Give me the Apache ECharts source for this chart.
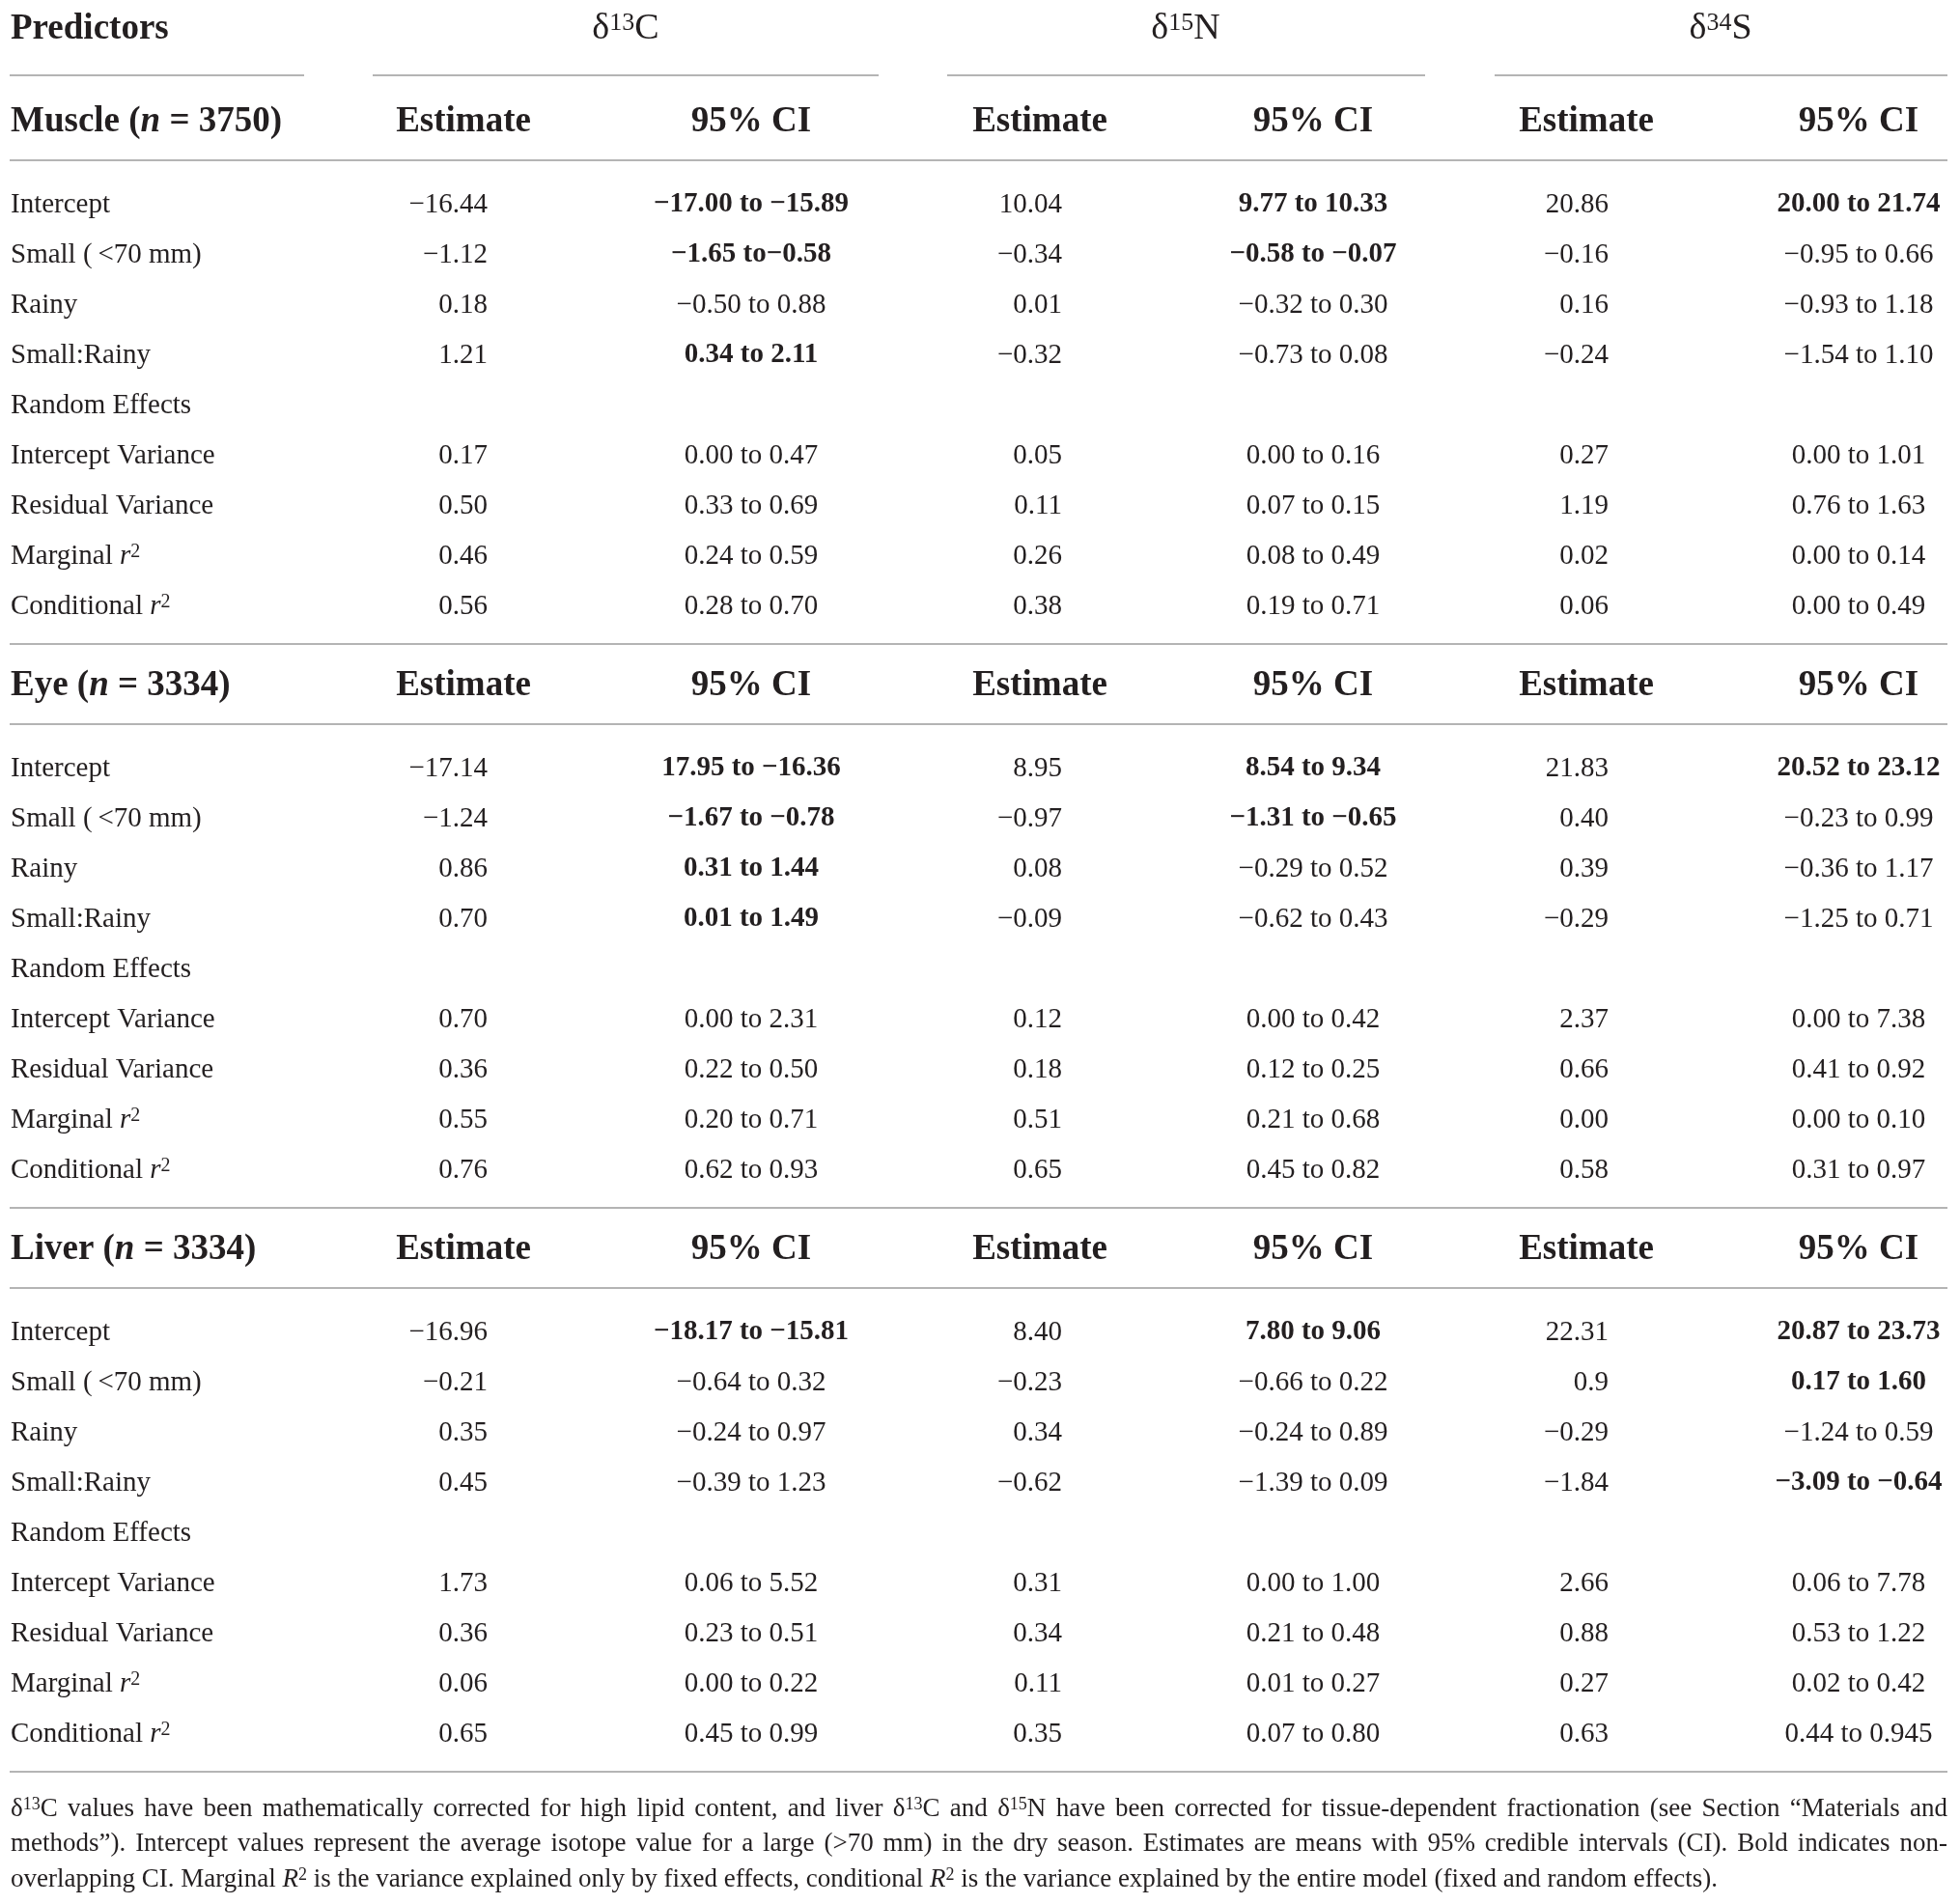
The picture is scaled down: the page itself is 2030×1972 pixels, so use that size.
<!DOCTYPE html>
<html>
<head>
<meta charset="utf-8">
<script src="https://cdn.jsdelivr.net/npm/echarts@6.0.0/dist/echarts.min.js"></script>
<style>
  html, body { margin: 0; padding: 0; background: #fff; }
  #chart-container { width: 2030px; height: 1972px; }
</style>
</head>
<body>
<div id="chart-container"></div>
<script>
var tissues = ['Muscle', 'Eye', 'Liver'];
var sampleSizes = [3750, 3334, 3334];
var isotopeMass = ['13', '15', '34'];
var isotopeElem = ['C', 'N', 'S'];
var predictors = ['Intercept', 'Small (\u2009<70 mm)', 'Rainy', 'Small:Rainy', 'Random Effects',
  'Intercept Variance', 'Residual Variance', 'Marginal {it|r}{sup|2}', 'Conditional {it|r}{sup|2}'];

// estimates and 95% CI, one inner array per isotope (C, N, S)
var muscleEst = [
  ['−16.44', '−1.12', '0.18', '1.21', '', '0.17', '0.50', '0.46', '0.56'],
  ['10.04', '−0.34', '0.01', '−0.32', '', '0.05', '0.11', '0.26', '0.38'],
  ['20.86', '−0.16', '0.16', '−0.24', '', '0.27', '1.19', '0.02', '0.06']
];
var muscleCI = [
  ['−17.00 to −15.89', '−1.65 to−0.58', '−0.50 to 0.88', '0.34 to 2.11', '', '0.00 to 0.47', '0.33 to 0.69', '0.24 to 0.59', '0.28 to 0.70'],
  ['9.77 to 10.33', '−0.58 to −0.07', '−0.32 to 0.30', '−0.73 to 0.08', '', '0.00 to 0.16', '0.07 to 0.15', '0.08 to 0.49', '0.19 to 0.71'],
  ['20.00 to 21.74', '−0.95 to 0.66', '−0.93 to 1.18', '−1.54 to 1.10', '', '0.00 to 1.01', '0.76 to 1.63', '0.00 to 0.14', '0.00 to 0.49']
];
var muscleBold = [[0, 1, 3], [0, 1], [0]];

var eyeEst = [
  ['−17.14', '−1.24', '0.86', '0.70', '', '0.70', '0.36', '0.55', '0.76'],
  ['8.95', '−0.97', '0.08', '−0.09', '', '0.12', '0.18', '0.51', '0.65'],
  ['21.83', '0.40', '0.39', '−0.29', '', '2.37', '0.66', '0.00', '0.58']
];
var eyeCI = [
  ['17.95 to −16.36', '−1.67 to −0.78', '0.31 to 1.44', '0.01 to 1.49', '', '0.00 to 2.31', '0.22 to 0.50', '0.20 to 0.71', '0.62 to 0.93'],
  ['8.54 to 9.34', '−1.31 to −0.65', '−0.29 to 0.52', '−0.62 to 0.43', '', '0.00 to 0.42', '0.12 to 0.25', '0.21 to 0.68', '0.45 to 0.82'],
  ['20.52 to 23.12', '−0.23 to 0.99', '−0.36 to 1.17', '−1.25 to 0.71', '', '0.00 to 7.38', '0.41 to 0.92', '0.00 to 0.10', '0.31 to 0.97']
];
var eyeBold = [[0, 1, 2, 3], [0, 1], [0]];

var liverEst = [
  ['−16.96', '−0.21', '0.35', '0.45', '', '1.73', '0.36', '0.06', '0.65'],
  ['8.40', '−0.23', '0.34', '−0.62', '', '0.31', '0.34', '0.11', '0.35'],
  ['22.31', '0.9', '−0.29', '−1.84', '', '2.66', '0.88', '0.27', '0.63']
];
var liverCI = [
  ['−18.17 to −15.81', '−0.64 to 0.32', '−0.24 to 0.97', '−0.39 to 1.23', '', '0.06 to 5.52', '0.23 to 0.51', '0.00 to 0.22', '0.45 to 0.99'],
  ['7.80 to 9.06', '−0.66 to 0.22', '−0.24 to 0.89', '−1.39 to 0.09', '', '0.00 to 1.00', '0.21 to 0.48', '0.01 to 0.27', '0.07 to 0.80'],
  ['20.87 to 23.73', '0.17 to 1.60', '−1.24 to 0.59', '−3.09 to −0.64', '', '0.06 to 7.78', '0.53 to 1.22', '0.02 to 0.42', '0.44 to 0.945']
];
var liverBold = [[0], [0], [0, 1, 3]];

var footnote = [
  'δ{sup|13}C values have been mathematically corrected for high lipid content, and liver δ{sup|13}C and δ{sup|15}N have been corrected for tissue-dependent fractionation (see Section “Materials and',
  'methods”). Intercept values represent the average isotope value for a large (>70 mm) in the dry season. Estimates are means with 95% credible intervals (CI). Bold indicates non-',
  'overlapping CI. Marginal {it|R}{sup|2} is the variance explained only by fixed effects, conditional {it|R}{sup|2} is the variance explained by the entire model (fixed and random effects).'
];
var footnoteJustified = [true, true, false];

// layout
var W = 2030, H = 1972;
var leftX = 11, tableRight = 2017;
var estRight = [505, 1100, 1666];
var estHeadX = [480, 1077, 1643];
var ciX = [778, 1360, 1925];
var isoX = [648, 1228, 1782];
var isoRule = [[386, 910], [981, 1476], [1548, 2017]];
var textShift = 2;
var topY = 28 + textShift, topRuleY = 78, sectionY0 = 124, sectionStep = 584, rowStep = 52;
var FF = '"Liberation Serif", "Times New Roman", serif';
var ink = '#231f20';
var ruleColor = '#b4b4b4';

var fonts = {
  body: '29px ' + FF,
  bold: 'bold 29px ' + FF,
  head: 'bold 37px ' + FF,
  iso: '38px ' + FF,
  note: '27px ' + FF
};
function richFor(kind) {
  var base = fonts[kind];
  var m = base.match(/(bold )?([\d.]+)px/);
  var size = parseFloat(m[2]);
  var bold = m[1] ? 'bold ' : '';
  return {
    it: { font: 'italic ' + bold + size + 'px ' + FF, fill: ink },
    sup: { font: bold + Math.round(size * 0.68) + 'px ' + FF, fill: ink, verticalAlign: 'top', lineHeight: Math.round(size * 0.62) }
  };
}

var measureCtx = document.createElement('canvas').getContext('2d');
function textWidth(str, font) {
  measureCtx.font = font;
  return measureCtx.measureText(str).width;
}
function measureRich(word, kind) {
  var rich = richFor(kind);
  var re = /\{(\w+)\|([^}]*)\}/g, m, last = 0, w = 0;
  while ((m = re.exec(word))) {
    w += textWidth(word.slice(last, m.index), fonts[kind]);
    w += textWidth(m[2], rich[m[1]].font);
    last = re.lastIndex;
  }
  return w + textWidth(word.slice(last), fonts[kind]);
}

var allEst = [muscleEst, eyeEst, liverEst];
var allCI = [muscleCI, eyeCI, liverCI];
var allBold = [muscleBold, eyeBold, liverBold];

var cells = [];
var rules = [];
cells.push({ x: leftX, y: topY, text: 'Predictors', align: 'left', kind: 'head' });
rules.push([10, topRuleY, 315]);
isotopeMass.forEach(function (m, i) {
  cells.push({ x: isoX[i], y: topY, text: 'δ{sup|' + m + '}' + isotopeElem[i], align: 'center', kind: 'iso' });
  rules.push([isoRule[i][0], topRuleY, isoRule[i][1]]);
});

tissues.forEach(function (t, s) {
  var hy = sectionY0 + s * sectionStep;
  cells.push({ x: leftX, y: hy + textShift, text: t + ' ({it|n} = ' + sampleSizes[s] + ')', align: 'left', kind: 'head' });
  for (var i = 0; i < 3; i++) {
    cells.push({ x: estHeadX[i], y: hy + textShift, text: 'Estimate', align: 'center', kind: 'head' });
    cells.push({ x: ciX[i], y: hy + textShift, text: '95% CI', align: 'center', kind: 'head' });
  }
  rules.push([10, hy + 42, tableRight]);
  predictors.forEach(function (p, r) {
    var ry = hy + 86 + r * rowStep + textShift;
    cells.push({ x: leftX, y: ry, text: p, align: 'left', kind: 'body' });
    for (var i = 0; i < 3; i++) {
      var isBold = allBold[s][i].indexOf(r) >= 0;
      if (allEst[s][i][r]) cells.push({ x: estRight[i], y: ry, text: allEst[s][i][r], align: 'right', kind: 'body' });
      if (allCI[s][i][r]) cells.push({ x: ciX[i], y: ry, text: allCI[s][i][r], align: 'center', kind: isBold ? 'bold' : 'body' });
    }
  });
  rules.push([10, hy + 543, tableRight]);
});

// footnote, first two lines justified to the table width
var noteY = [1872, 1908, 1945];
footnote.forEach(function (line, i) {
  var y = noteY[i] + textShift;
  if (!footnoteJustified[i]) {
    cells.push({ x: leftX, y: y, text: line, align: 'left', kind: 'note' });
    return;
  }
  var words = line.split(' ');
  var widths = words.map(function (w) { return measureRich(w, 'note'); });
  var total = widths.reduce(function (a, b) { return a + b; }, 0);
  var gap = (tableRight - leftX - total) / (words.length - 1);
  var x = leftX;
  words.forEach(function (w, k) {
    cells.push({ x: x, y: y, text: w, align: 'left', kind: 'note' });
    x += widths[k] + gap;
  });
});

var dom = document.getElementById('chart-container');
var myChart = echarts.init(dom, null, { renderer: 'canvas' });

var option = {
  backgroundColor: '#ffffff',
  animation: false,
  grid: { left: 0, right: 0, top: 0, bottom: 0 },
  xAxis: { type: 'value', min: 0, max: W, show: false },
  yAxis: { type: 'value', min: 0, max: H, inverse: true, show: false },
  series: [
    {
      name: 'rules',
      type: 'custom',
      clip: false,
      silent: true,
      data: rules,
      renderItem: function (params, api) {
        var a = api.coord([api.value(0), api.value(1)]);
        var b = api.coord([api.value(2), api.value(1)]);
        return {
          type: 'line',
          shape: { x1: a[0], y1: a[1], x2: b[0], y2: b[1] },
          style: { stroke: ruleColor, lineWidth: 2 }
        };
      }
    },
    {
      name: 'cells',
      type: 'custom',
      clip: false,
      silent: true,
      data: cells.map(function (c) { return [c.x, c.y]; }),
      renderItem: function (params, api) {
        var c = cells[params.dataIndex];
        var p = api.coord([api.value(0), api.value(1)]);
        return {
          type: 'text',
          x: p[0],
          y: p[1],
          style: {
            text: c.text,
            font: fonts[c.kind],
            fill: ink,
            align: c.align,
            verticalAlign: 'middle',
            rich: richFor(c.kind)
          }
        };
      }
    }
  ]
};

myChart.setOption(option);
window.addEventListener('resize', myChart.resize);
</script>
</body>
</html>
